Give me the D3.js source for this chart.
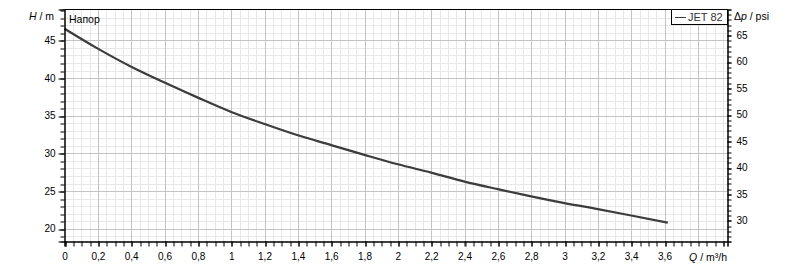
<!DOCTYPE html>
<html>
<head>
<meta charset="utf-8">
<script src="https://cdn.jsdelivr.net/npm/d3@7"></script>
<style>
  body { margin: 0; background: #fff; }
  svg { display: block; font-family: "Liberation Sans", Arial, sans-serif; }
</style>
</head>
<body>
<svg id="svg" width="790" height="269"></svg>
<script>
// pump curve JET 82
const flow = [0, 0.2, 0.4, 0.6, 0.8, 1.0, 1.2, 1.4, 1.6, 1.8, 2.0, 2.2, 2.4, 2.6, 2.8, 3.0, 3.2, 3.4, 3.62]
const head = [46.55, 43.9, 41.5, 39.4, 37.4, 35.5, 33.9, 32.4, 31.1, 29.8, 28.55, 27.45, 26.25, 25.25, 24.3, 23.4, 22.6, 21.75, 20.8]
const seriesName = 'JET 82'
const curveTitle = 'Напор'
const xLabelTicks = [0, 0.2, 0.4, 0.6, 0.8, 1, 1.2, 1.4, 1.6, 1.8, 2, 2.2, 2.4, 2.6, 2.8, 3, 3.2, 3.4, 3.6]
const yLabelTicks = [20, 25, 30, 35, 40, 45]
const psiLabelTicks = [30, 35, 40, 45, 50, 55, 60, 65]

const M_PER_PSI = 0.70307

const pLeft = 64.5, pRight = 727.5, pTop = 9.5, pBottom = 241.5
const svg = d3.select('#svg')

const x = d3.scaleLinear().domain([0, 3.978]).range([pLeft, pRight])
const y = d3.scaleLinear().domain([18.3, 49.1]).range([pBottom, pTop])
const yPsi = d3.scaleLinear().domain([18.3 / M_PER_PSI, 49.1 / M_PER_PSI]).range([pBottom, pTop])

const fmt = d => String(+d.toFixed(2)).replace('.', ',')
const snap = v => Math.round(v) + 0.5

// grid
const minorX = d3.range(0, 80).map(i => i * 0.05).filter(v => x(v) < pRight - 1)
const minorY = d3.range(19, 50).filter(v => y(v) > pTop + 1)
const isMajorX = d => Math.round(d * 100) % 20 === 0
const grid = svg.append('g')
grid.selectAll('.vx').data(minorX.filter(d => !isMajorX(d))).enter().append('line')
  .attr('x1', d => snap(x(d))).attr('x2', d => snap(x(d)))
  .attr('y1', pTop).attr('y2', pBottom)
  .attr('stroke', '#e8e8e8')
grid.selectAll('.hy').data(minorY).enter().append('line')
  .attr('y1', d => snap(y(d))).attr('y2', d => snap(y(d)))
  .attr('x1', pLeft).attr('x2', pRight)
  .attr('stroke', d => d % 5 === 0 ? '#c4c4c4' : '#e8e8e8')
  .sort((a, b) => (a % 5 === 0) - (b % 5 === 0))
grid.selectAll('.vmaj').data(minorX.filter(d => isMajorX(d) && d > 0)).enter().append('line')
  .attr('x1', d => snap(x(d))).attr('x2', d => snap(x(d)))
  .attr('y1', pTop).attr('y2', pBottom).attr('stroke', '#c4c4c4')

// frame
svg.append('line').attr('x1', pLeft).attr('x2', pRight).attr('y1', pTop).attr('y2', pTop).attr('stroke', '#000')

// curve
const line = d3.line().x((d, i) => x(flow[i])).y(d => y(d)).curve(d3.curveMonotoneX)
svg.append('path')
  .attr('d', line(head))
  .attr('fill', 'none')
  .attr('stroke', '#3c3c3c')
  .attr('stroke-width', 2.2)

// left axis
const axL = svg.append('g').attr('transform', `translate(${pLeft},0)`)
axL.call(d3.axisLeft(y).tickValues(d3.range(19, 50)).tickSize(4).tickFormat(''))
axL.append('g').call(d3.axisLeft(y).tickValues(yLabelTicks).tickSize(6).tickPadding(3).tickFormat(d => d))
axL.selectAll('line').attr('transform', d => `translate(0,${snap(y(d)) - y(d)})`)

// right axis (psi)
const axR = svg.append('g').attr('transform', `translate(${pRight},0)`)
axR.call(d3.axisRight(yPsi).tickValues(d3.range(27, 70)).tickSize(4).tickFormat(''))
axR.append('g').call(d3.axisRight(yPsi).tickValues(psiLabelTicks).tickSize(4).tickPadding(5).tickFormat(d => d))
axR.selectAll('line').attr('transform', d => `translate(0,${snap(yPsi(d)) - yPsi(d)})`)

// bottom axis
const axB = svg.append('g').attr('transform', `translate(0,${pBottom})`)
axB.call(d3.axisBottom(x).tickValues(minorX.concat([3.95])).tickSize(5).tickFormat(''))
axB.append('g').call(d3.axisBottom(x).tickValues(xLabelTicks).tickSize(5).tickPadding(6).tickFormat(fmt))
axB.selectAll('line').attr('transform', d => `translate(${snap(x(d)) - x(d)},0)`)

svg.selectAll('.tick text').attr('font-size', 10).attr('font-family', '"Liberation Sans", Arial, sans-serif').attr('fill', '#000')
svg.selectAll('.domain').attr('stroke', '#000')

// axis titles
const t1 = svg.append('text').attr('x', 54).attr('y', 20).attr('text-anchor', 'end').attr('font-size', 10.5)
t1.append('tspan').attr('font-style', 'italic').text('H')
t1.append('tspan').text(' / m')
const t2 = svg.append('text').attr('x', 734).attr('y', 19.5).attr('font-size', 10.5)
t2.append('tspan').text('Δ')
t2.append('tspan').attr('font-style', 'italic').text('p')
t2.append('tspan').text(' / psi')
const t3 = svg.append('text').attr('x', 727).attr('y', 261).attr('text-anchor', 'end').attr('font-size', 10.5)
t3.append('tspan').attr('font-style', 'italic').text('Q')
t3.append('tspan').text(' / m³/h')

svg.append('text').attr('x', 69).attr('y', 23).attr('font-size', 10.5).text(curveTitle)

// legend
const lg = svg.append('g')
lg.append('rect').attr('x', 671.5).attr('y', pTop).attr('width', pRight - 671.5).attr('height', 15)
  .attr('fill', '#fff').attr('stroke', '#000')
lg.append('line').attr('x1', 675).attr('x2', 686).attr('y1', 17.5).attr('y2', 17.5).attr('stroke', '#3c3c3c')
lg.append('text').attr('x', 688).attr('y', 21).attr('font-size', 11).attr('fill', '#333').text(seriesName)
</script>
</body>
</html>
